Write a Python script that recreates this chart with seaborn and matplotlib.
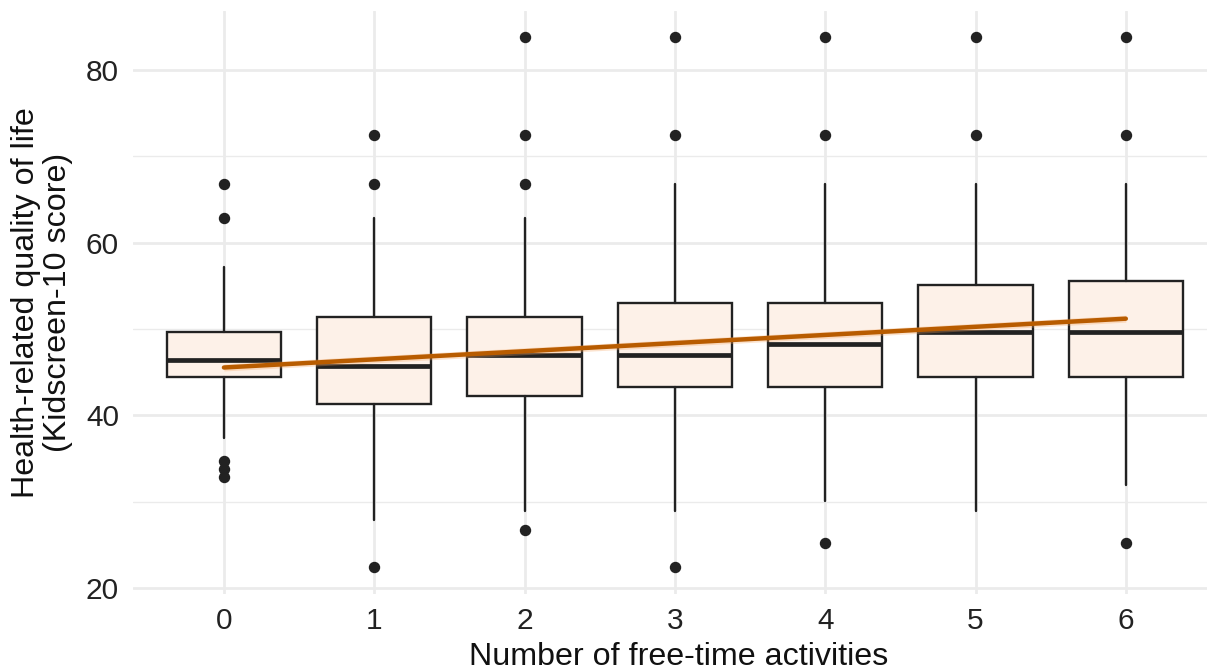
import matplotlib
matplotlib.use("Agg")
import matplotlib.pyplot as plt
import seaborn as sns
import pandas as pd
import numpy as np

# ---- data ----
activities = [0, 1, 2, 3, 4, 5, 6]
q1 =      [44.4, 41.3, 42.3, 43.3, 43.3, 44.4, 44.4]
median =  [46.4, 45.7, 47.0, 47.0, 48.3, 49.7, 49.7]
q3 =      [49.7, 51.4, 51.4, 53.0, 53.0, 55.1, 55.6]
wlo =     [37.4, 27.9, 29.0, 29.0, 30.1, 29.0, 32.0]
whi =     [57.2, 62.9, 62.9, 66.8, 66.8, 66.8, 66.8]
outliers = [
    [66.8, 62.9, 34.7, 33.8, 32.9],
    [72.5, 66.8, 22.5],
    [83.8, 72.5, 66.8, 26.7],
    [83.8, 72.5, 22.5],
    [83.8, 72.5, 25.3],
    [83.8, 72.5],
    [83.8, 72.5, 25.3],
]
trend_x = [0, 6]
trend_y = [45.55, 51.2]
trend_lo = [45.15, 50.8]
trend_hi = [45.95, 51.6]

x_label = "Number of free-time activities"
y_label = "Health-related quality of life\n(Kidscreen-10 score)"
y_ticks = [20, 40, 60, 80]

# ---- style ----
sns.set_theme(style="white")
plt.rcParams['font.family'] = ['Liberation Sans', 'DejaVu Sans']

fig = plt.figure(figsize=(12.07, 6.71), dpi=100)
ax = fig.add_axes([133/1207, 77.5/671, (1207-133)/1207, 582.5/671])

# grid
for y in y_ticks:
    ax.axhline(y, color="#EBEBEB", lw=2.0, zorder=0)
for y in [30, 50, 70]:
    ax.axhline(y, color="#EBEBEB", lw=1.0, zorder=0)
for xv in activities:
    ax.axvline(xv, color="#EBEBEB", lw=2.0, zorder=0)

stats = []
for i, a in enumerate(activities):
    stats.append(dict(med=median[i], q1=q1[i], q3=q3[i], whislo=wlo[i],
                      whishi=whi[i], fliers=outliers[i], label=str(a)))

ax.bxp(stats, positions=activities, widths=0.76, patch_artist=True,
       showfliers=True, manage_ticks=False,
       boxprops=dict(facecolor="#FDF1E8", edgecolor="#222222", linewidth=1.7),
       medianprops=dict(color="#222222", linewidth=3.4, solid_capstyle="butt"),
       whiskerprops=dict(color="#222222", linewidth=1.7),
       capprops=dict(linewidth=0),
       flierprops=dict(marker="o", markersize=7.2, markerfacecolor="#222222",
                       markeredgecolor="#222222"))

trend = pd.DataFrame({"x": trend_x, "y": trend_y})
ax.fill_between(trend_x, trend_lo, trend_hi, color="#F5A25C", alpha=0.3,
                lw=0, zorder=4)
sns.lineplot(data=trend, x="x", y="y", ax=ax, color="#B85C00", lw=3.2,
             zorder=5)

ax.set_xlim(-0.605, 6.54)
ax.set_ylim(19.4, 86.8)
ax.set_xticks(activities)
ax.set_xticklabels([str(a) for a in activities])
ax.set_yticks(y_ticks)
ax.tick_params(axis="both", length=0, labelsize=21.5, colors="#222222", pad=10)
for s in ax.spines.values():
    s.set_visible(False)
ax.set_xlabel(x_label, fontsize=23.2, color="#111111")
ax.xaxis.set_label_coords(0.508, -0.0833)
ax.set_ylabel(y_label, fontsize=23.2, color="#111111", labelpad=9,
              linespacing=1.1)

fig.savefig("out.png", dpi=100)
